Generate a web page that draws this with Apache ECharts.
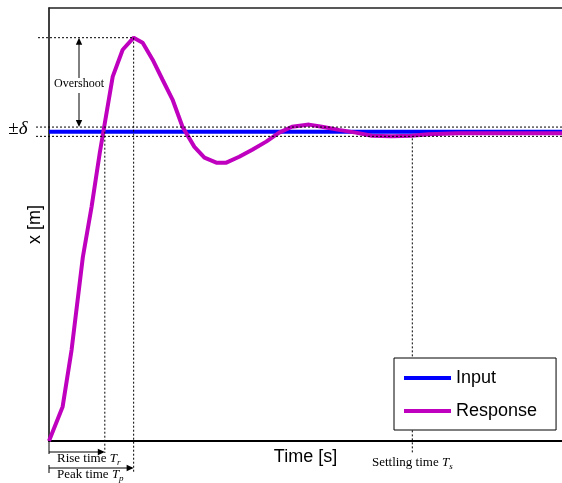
<!DOCTYPE html>
<html>
<head>
<meta charset="utf-8">
<script src="https://cdn.jsdelivr.net/npm/echarts@6/dist/echarts.min.js"></script>
<style>
  html, body { margin: 0; padding: 0; background: #fff; }
  #main { width: 562px; height: 483px; }
</style>
</head>
<body>
<div id="main"></div>
<script>
// step response (time in s, position in m)
var responseTime = [0, 0.133, 0.22, 0.33, 0.415, 0.495, 0.621, 0.718, 0.825, 0.913, 1.01, 1.107,
  1.204, 1.301, 1.417, 1.515, 1.631, 1.728, 1.854, 1.981, 2.117, 2.243, 2.369, 2.534, 2.66,
  2.825, 2.99, 3.146, 3.34, 3.534, 3.699, 3.99, 5]
var responseValues = [0, 0.111, 0.294, 0.595, 0.757, 0.932, 1.178, 1.265, 1.304, 1.288, 1.233, 1.168,
  1.104, 1.016, 0.951, 0.916, 0.9, 0.9, 0.919, 0.942, 0.968, 0.997, 1.016, 1.023, 1.016,
  1.006, 0.997, 0.987, 0.985, 0.987, 0.992, 0.995, 0.995]
var inputTime = [0, 5]
var inputValues = [1, 1]

// characteristic values marked on the plot
var riseTime = 0.544
var peakTime = 0.825
var peakValue = 1.304
var settlingTime = 3.541
var delta = 0.015

var serif = 'Liberation Serif'
var sans = 'Liberation Sans'

function pairs(xs, ys) {
  return xs.map(function (x, i) { return [x, ys[i]] })
}

var bare = {
  axisTick: { show: false }, axisLabel: { show: false }, splitLine: { show: false }
}

var chart = echarts.init(document.getElementById('main'))

chart.setOption({
  animation: false,
  grid: { left: 49, top: 8, right: 0, bottom: 42 },
  xAxis: [
    Object.assign({
      type: 'value', min: 0, max: 5,
      name: 'Time [s]', nameLocation: 'middle', nameGap: 7,
      nameTextStyle: { fontFamily: sans, fontSize: 18, color: '#000' },
      axisLine: { show: true, lineStyle: { color: '#000', width: 2 } }
    }, bare),
    // top frame line
    Object.assign({
      type: 'value', min: 0, max: 5, position: 'top',
      axisLine: { show: true, lineStyle: { color: '#222', width: 1.5 } }
    }, bare)
  ],
  yAxis: Object.assign({
    type: 'value', min: 0, max: 1.4,
    name: 'x [m]', nameLocation: 'middle', nameGap: 5,
    nameTextStyle: { fontFamily: sans, fontSize: 18, color: '#000' },
    axisLine: { show: true, lineStyle: { color: '#000', width: 1.5 } }
  }, bare),
  legend: {
    orient: 'vertical', left: 394, top: 358, z: 100,
    padding: [10, 19, 9, 10], itemGap: 13, itemWidth: 47, itemHeight: 4,
    icon: 'rect',
    backgroundColor: '#fff', borderColor: '#000', borderWidth: 1, borderRadius: 0,
    textStyle: { fontFamily: sans, fontSize: 18, color: '#000', lineHeight: 20 },
    data: ['Input', 'Response']
  },
  series: [
    {
      name: 'Input', type: 'line', symbol: 'none', z: 2,
      lineStyle: { color: '#0000ff', width: 4 }, itemStyle: { color: '#0000ff' },
      data: pairs(inputTime, inputValues)
    },
    {
      name: 'Response', type: 'line', symbol: 'none', z: 3,
      lineStyle: { color: '#bf00bf', width: 4 }, itemStyle: { color: '#bf00bf' },
      data: pairs(responseTime, responseValues)
    }
  ]
})

// annotations placed through the chart's own scales
function px(t, v) { return chart.convertToPixel({ gridIndex: 0 }, [t, v]) }

function seg(x1, y1, x2, y2, dashed) {
  return {
    type: 'line', silent: true, z: 5,
    shape: { x1: x1, y1: y1, x2: x2, y2: y2 },
    style: { stroke: '#000', lineWidth: 1, lineDash: dashed ? [2, 2] : null }
  }
}

function head(x, y, dir) {
  var L = 7, W = 3.2, pts
  if (dir === 'up') pts = [[x, y], [x - W, y + L], [x + W, y + L]]
  else if (dir === 'down') pts = [[x, y], [x - W, y - L], [x + W, y - L]]
  else pts = [[x, y], [x - L, y - W], [x - L, y + W]]
  return { type: 'polygon', silent: true, z: 6, shape: { points: pts }, style: { fill: '#000' } }
}

function label(x, y, text, size, align, bg) {
  return {
    type: 'text', silent: true, z: 7, x: x, y: y,
    style: {
      text: text, align: align || 'left', verticalAlign: 'middle',
      fill: '#000', backgroundColor: bg || null,
      rich: {
        n: { fontFamily: serif, fontSize: size, lineHeight: 15, verticalAlign: 'top' },
        i: { fontFamily: serif, fontSize: size, fontStyle: 'italic', lineHeight: 15, verticalAlign: 'top' },
        s: { fontFamily: serif, fontSize: size - 4, fontStyle: 'italic', lineHeight: 10, padding: [6, 0, 0, 0], verticalAlign: 'bottom' },
        big: { fontFamily: serif, fontSize: 19, lineHeight: 22 },
        bigi: { fontFamily: serif, fontSize: 19, fontStyle: 'italic', lineHeight: 22 }
      }
    }
  }
}

var o = px(0, 0)
var xEnd = px(5, 0)[0]
var yHi = px(0, 1 + delta)[1]
var yLo = px(0, 1 - delta)[1]
var yOne = px(0, 1)[1]
var pk = px(peakTime, peakValue)
var xr = px(riseTime, 0)[0]
var xs = px(settlingTime, 0)[0]
var xo = o[0] + 30

var g = [
  // tolerance band and peak level
  seg(o[0] - 13, yHi, xEnd, yHi, true),
  seg(o[0] - 13, yLo, xEnd, yLo, true),
  seg(o[0] - 11, pk[1], pk[0], pk[1], true),
  // time markers
  seg(xr, yOne, xr, o[1] + 12, true),
  seg(pk[0], pk[1], pk[0], o[1] + 32, true),
  seg(xs, yLo + 2, xs, o[1] + 13, true),
  // overshoot arrow
  seg(xo, pk[1] + 2, xo, yHi - 2, false),
  head(xo, pk[1], 'up'),
  head(xo, yHi, 'down'),
  label(xo, (pk[1] + yHi) / 2 + 3, '{n|Overshoot}', 12, 'center', '#fff'),
  // rise / peak time arrows
  seg(o[0], o[1], o[0], o[1] + 13, false),
  seg(o[0], o[1] + 11, xr - 2, o[1] + 11, false),
  head(xr, o[1] + 11, 'right'),
  label(o[0] + 8, o[1] + 19, '{n|Rise time }{i|T}{s|r}', 13),
  seg(o[0], o[1] + 24, o[0], o[1] + 32, false),
  seg(o[0], o[1] + 27, pk[0] - 2, o[1] + 27, false),
  head(pk[0], o[1] + 27, 'right'),
  label(o[0] + 8, o[1] + 35, '{n|Peak time }{i|T}{s|p}', 13),
  label(xs, o[1] + 23, '{n|Settling time }{i|T}{s|s}', 13, 'center'),
  // tolerance label
  label(o[0] - 31, (yHi + yLo) / 2 - 3, '{big|\u00b1}{bigi|\u03b4}', 16, 'center')
]

chart.setOption({ graphic: g })
</script>
</body>
</html>
